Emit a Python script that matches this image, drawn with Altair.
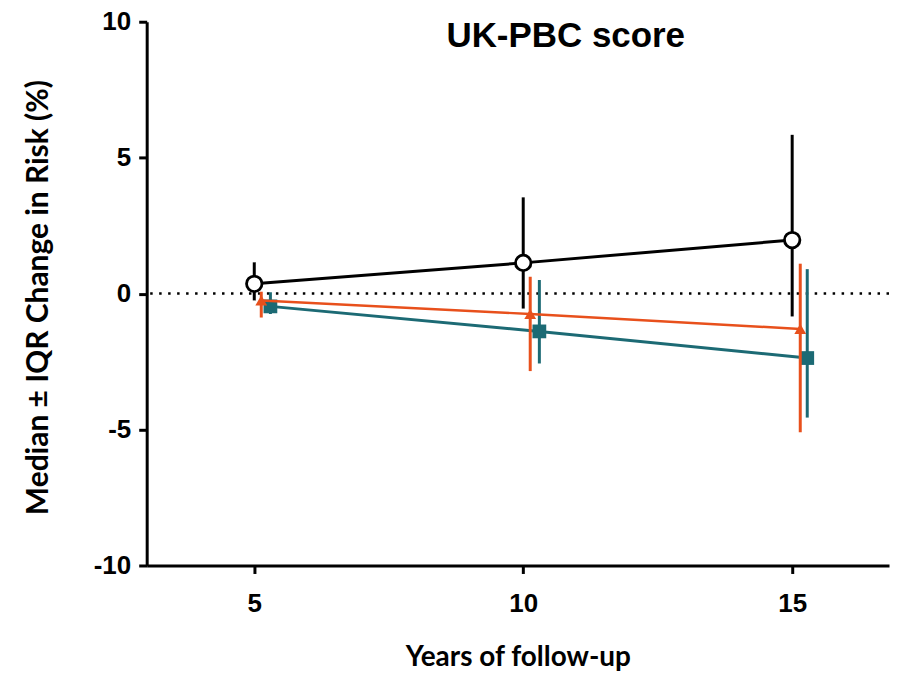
import altair as alt
import pandas as pd

# ---- data ----
years_black = [5, 10, 15]
median_black = [0.36, 1.13, 1.97]
q1_black = [-0.25, -0.55, -0.84]
q3_black = [1.15, 3.54, 5.84]

years_orange = [5.13, 10.13, 15.15]
median_orange = [-0.25, -0.75, -1.3]
q1_orange = [-0.88, -2.85, -5.1]
q3_orange = [0.07, 0.62, 1.1]

years_teal = [5.3, 10.3, 15.28]
median_teal = [-0.47, -1.39, -2.37]
q1_teal = [-0.75, -2.57, -4.56]
q3_teal = [0.05, 0.5, 0.9]

x_ticks = [5, 10, 15]
y_ticks = [-10, -5, 0, 5, 10]

BLACK = "#000000"
ORANGE = "#E8501C"
TEAL = "#1C6A74"

xs = alt.Scale(domain=[3, 16.8], nice=False, zero=False)
ys = alt.Scale(domain=[-10, 10], nice=False)

LABEL_EXPR = "datum.value < 0 ? '-' + abs(datum.value) : '' + datum.value"
axis_style = dict(
    grid=False, domainColor="black", domainWidth=3, tickColor="black", tickWidth=3, tickSize=8,
    labelFont="Liberation Sans", labelFontSize=26, labelFontWeight="bold", labelColor="black",
    titleFont="Lato", titleFontWeight="bold", titleColor="black",
    labelExpr=LABEL_EXPR,
)

X = alt.X("x:Q", scale=xs, axis=alt.Axis(values=x_ticks, title="Years of follow-up",
          labelPadding=17, titlePadding=27, titleFontSize=28, **axis_style))
Y = alt.Y("m:Q", scale=ys, axis=alt.Axis(values=y_ticks, title="Median ± IQR Change in Risk (%)",
          labelPadding=8, titlePadding=40, titleFontSize=30, titleY=276, **axis_style))


def series(xv, mv, lo, hi, color, shape, filled, size, lw):
    df = pd.DataFrame({"x": xv, "m": mv, "lo": lo, "hi": hi})
    base = alt.Chart(df)
    err = base.mark_rule(color=color, strokeWidth=3).encode(
        x=alt.X("x:Q", scale=xs), y=alt.Y("lo:Q", scale=ys), y2="hi:Q")
    line = base.mark_line(color=color, strokeWidth=lw).encode(x=X, y=Y)
    if filled:
        pts = base.mark_point(shape=shape, filled=True, color=color, size=size, opacity=1).encode(x="x:Q", y="m:Q")
    else:
        pts = base.mark_point(shape=shape, filled=True, fill="white", stroke=color,
                              strokeWidth=2.8, size=size, opacity=1).encode(x="x:Q", y="m:Q")
    return [err, line, pts]


zero = alt.Chart(pd.DataFrame({"z": [0]})).mark_rule(
    color="black", strokeWidth=2.5, strokeDash=[2.5, 6.5]).encode(y=alt.Y("z:Q", scale=ys))

layers = [zero]
layers += series(years_teal, median_teal, q1_teal, q3_teal, TEAL, "square", True, 190, 3)
layers += series(years_orange, median_orange, q1_orange, q3_orange, ORANGE, "triangle-up", True, 140, 2.5)
layers += series(years_black, median_black, q1_black, q3_black, BLACK, "circle", False, 240, 3)

chart = alt.layer(*layers).properties(
    width=744, height=545,
    padding={"left": 15, "top": 0, "right": 0, "bottom": 0},
    title=alt.TitleParams("UK-PBC score", font="Liberation Sans", fontSize=35, fontWeight="bold",
                          color="black", anchor="middle", dx=48, offset=-45),
).configure_view(stroke=None)

chart.save("out.html", embed_options={"renderer": "svg", "actions": False})
